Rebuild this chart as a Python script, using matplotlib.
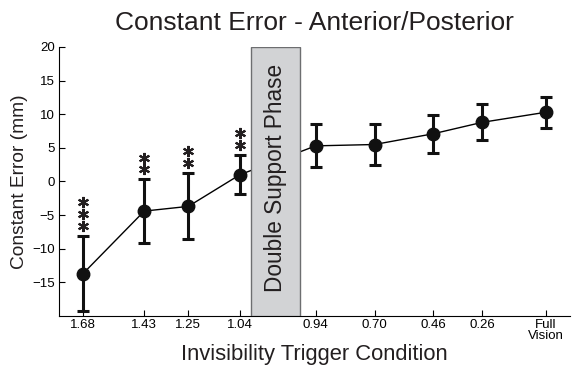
import numpy as np
import matplotlib
matplotlib.use('Agg')
import matplotlib.pyplot as plt
from matplotlib.patches import Rectangle
from matplotlib.transforms import offset_copy

plt.rcParams['font.family'] = ['Liberation Sans', 'DejaVu Sans']

# Invisibility trigger conditions (0 = full vision)
trigger = [1.68, 1.43, 1.25, 1.04, 0.94, 0.70, 0.46, 0.26, 0.0]
tick_labels = ['1.68', '1.43', '1.25', '1.04', '0.94', '0.70', '0.46', '0.26', 'Full\nVision']
mean_err = [-13.7, -4.4, -3.7, 1.0, 5.3, 5.5, 7.1, 8.8, 10.3]
sd_err = [5.6, 4.7, 4.9, 2.9, 3.2, 3.0, 2.8, 2.7, 2.3]
n_stars = [3, 2, 2, 2, 0, 0, 0, 0, 0]

# the double support phase sits between 1.04 and 0.94
gap = 0.21
trig = np.array(trigger)
xpos = trig[0] - trig + np.where(trig < 1.0, gap, 0.0)
dsp_start, dsp_end = 0.684, 0.885

fig = plt.figure(figsize=(5.74, 3.68), dpi=100)
ax = fig.add_axes([0.1028, 0.1413, 0.8902, 0.731])

ax.plot(xpos, mean_err, color='black', lw=1, zorder=2)
ax.errorbar(xpos, mean_err, yerr=sd_err, fmt='o', color='#111111', ms=9,
            elinewidth=2.2, capsize=4.5, capthick=2.2, zorder=4)

ax.add_patch(Rectangle((dsp_start, -20), dsp_end - dsp_start, 40,
                       facecolor='#d2d3d5', edgecolor='#6d6e70', lw=1, zorder=3))
ax.text((dsp_start + dsp_end) / 2, 0.5, 'Double Support Phase', rotation=90,
        ha='center', va='center', fontsize=16.3, color='#231f20', zorder=5)

# significance stars stacked above the error bars
for x, m, s, n in zip(xpos, mean_err, sd_err, n_stars):
    for i in range(n):
        tr = offset_copy(ax.transData, fig=fig, x=0, y=7.5 + i * 8.3, units='points')
        ax.plot([x], [m + s], marker=(6, 2, 0), ms=8, mew=1.5,
                color='#231f20', transform=tr, clip_on=False)

ax.set_xlim(-0.098, xpos[-1] + 0.098)
ax.set_ylim(-20, 20)
ax.set_yticks([-15, -10, -5, 0, 5, 10, 15, 20])
ax.set_yticklabels(['\u221215', '\u221210', '\u22125', '0', '5', '10', '15', '20'])
ax.set_xticks(xpos)
ax.set_xticklabels(tick_labels, linespacing=0.85)
ax.tick_params(axis='y', direction='in', length=4, labelsize=9.5, pad=3)
ax.tick_params(axis='x', direction='in', length=4, labelsize=9.5, pad=2.5)

ax.spines['top'].set_visible(False)
ax.spines['right'].set_visible(False)

ax.set_title('Constant Error - Anterior/Posterior', fontsize=19, pad=12.5, color='#231f20')
ax.set_xlabel('Invisibility Trigger Condition', fontsize=15.8, labelpad=1, color='#231f20')
ax.set_ylabel('Constant Error (mm)', fontsize=13.8, labelpad=3, color='#231f20')

fig.savefig('out.png', dpi=100)
